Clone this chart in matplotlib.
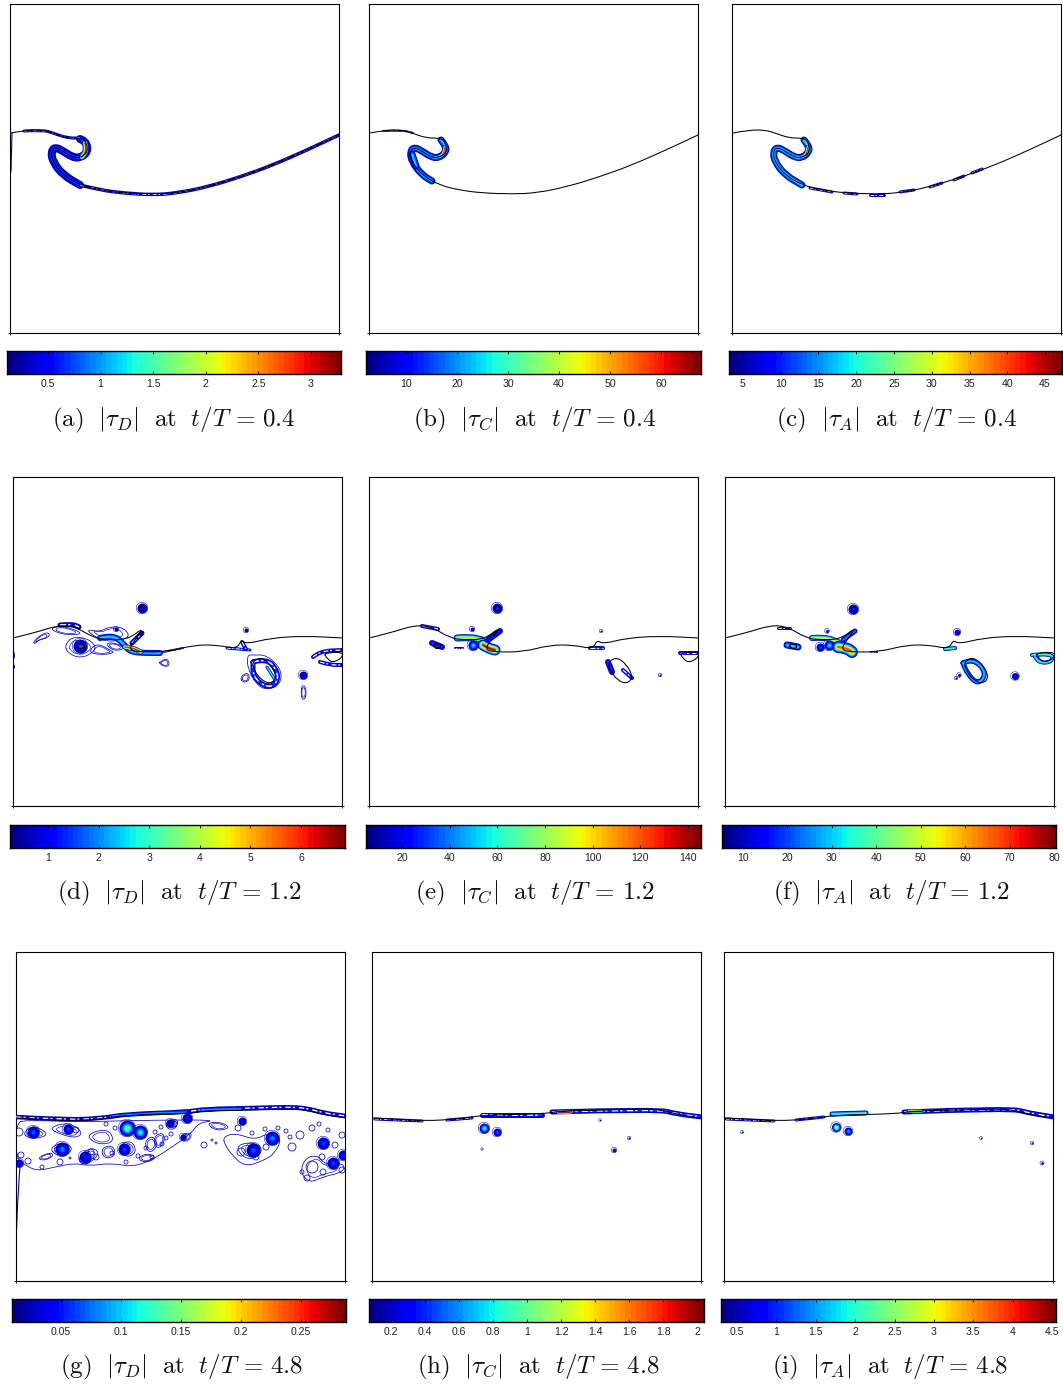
import numpy as np
import matplotlib
matplotlib.use('Agg')
import matplotlib.pyplot as plt
from matplotlib.colors import Normalize
from matplotlib.patches import PathPatch
from matplotlib.path import Path

plt.rcParams['mathtext.fontset'] = 'cm'
plt.rcParams['font.family'] = ['Liberation Sans', 'DejaVu Sans']

W, H = 1063, 1384
SIDE = 329  # panel coordinates are pixels from panel corner

# interface, one per row (same curve in all three panels of a row)
SURFACE_04 = [(1, 129), (17, 126), (33, 126), (43, 129), (57, 134), (70, 134), (76, 137), (78, 148), (70, 154),
              (62, 153), (53, 147), (45, 143), (41, 148), (43, 158), (53, 171), (70, 181), (90, 186), (113, 189),
              (143, 190), (167, 189), (197, 183), (230, 173), (263, 161), (297, 146), (329, 131)]
SURFACE_12 = [(0, 161), (21, 156), (46, 148), (63, 150), (81, 161), (96, 163), (116, 162), (131, 150), (122, 163),
              (116, 172), (124, 175), (154, 175), (181, 168), (204, 168), (224, 172), (228, 163), (234, 167),
              (258, 161), (291, 159), (330, 161)]
SURFACE_48 = [(0, 166), (22, 167), (51, 169), (88, 167), (111, 163), (171, 162), (188, 159), (239, 158), (271, 157),
              (290, 158), (308, 163), (330, 166)]
BUBBLES_12 = [[(239, 185), (248, 180), (258, 188), (264, 200), (258, 207), (248, 203), (241, 193)],
              [(311, 176), (330, 175), (329, 181), (319, 186), (313, 180)],
              [(126, 130), (130, 129), (131, 133), (127, 134)],
              [(64, 167), (71, 167), (72, 171), (66, 172)]]

# colorbars: lower and upper limit, tick values
LIM_A, TICKS_A = (0.11, 3.286), [0.5, 1, 1.5, 2, 2.5, 3]
LIM_B, TICKS_B = (2.16, 67.84), [10, 20, 30, 40, 50, 60]
LIM_C, TICKS_C = (3.15, 47.25), [5, 10, 15, 20, 25, 30, 35, 40, 45]
LIM_D, TICKS_D = (0.25, 6.87), [1, 2, 3, 4, 5, 6]
LIM_E, TICKS_E = (4.9, 145.5), [20, 40, 60, 80, 100, 120, 140]
LIM_F, TICKS_F = (5.27, 80.45), [10, 20, 30, 40, 50, 60, 70, 80]
LIM_G, TICKS_G = (0.0092, 0.2875), [0.05, 0.1, 0.15, 0.2, 0.25]
LIM_H, TICKS_H = (0.0706, 2.04), [0.2, 0.4, 0.6, 0.8, 1, 1.2, 1.4, 1.6, 1.8, 2]
LIM_I, TICKS_I = (0.297, 4.55), [0.5, 1, 1.5, 2, 2.5, 3, 3.5, 4, 4.5]

# ribbons: points, width in px, peak value. blobs: x, y, radius, peak value
RIBBONS_A = [([(70, 135), (76, 137), (78, 148), (70, 154), (62, 153), (53, 147), (45, 143), (41, 148), (43, 158), (53, 171), (70, 181)], 8, 0.75),
             ([(75, 139), (77, 146), (72, 153)], 6, 3.1),
             ([(14, 127), (33, 126), (43, 129), (57, 134), (70, 134)], 3, 0.3),
             ([(70, 181), (90, 186), (113, 189), (143, 191), (167, 189), (197, 183), (230, 173), (263, 161), (297, 146), (329, 131)], 3.5, 0.3)]
RIBBONS_B = [([(72, 136), (77, 142), (77, 148), (70, 154), (62, 153), (53, 147), (45, 143), (41, 148), (43, 158), (53, 171), (63, 177)], 7, 24),
             ([(76, 143), (75, 150), (70, 153)], 4, 62),
             ([(14, 127), (33, 126), (44, 129)], 2, 6),
             ([(43, 150), (47, 162)], 7, 25)]
RIBBONS_C = [([(72, 136), (77, 142), (77, 148), (70, 154), (62, 153), (53, 147), (45, 143), (41, 148), (43, 158), (53, 171), (70, 181)], 7, 20),
             ([(76, 143), (75, 150), (70, 153)], 4, 44),
             ([(78, 184), (100, 188)], 3, 6), ([(112, 189), (125, 190)], 3, 6), ([(138, 191), (152, 191)], 3, 6),
             ([(168, 188), (182, 186)], 3, 6), ([(198, 183), (210, 179)], 3, 6), ([(222, 176), (232, 172)], 3, 6),
             ([(240, 169), (250, 165)], 3, 6)]
RIBBONS_D = [([(47, 148), (60, 147), (66, 150)], 5, 0.9),
             ([(87, 161), (100, 158), (110, 166), (117, 175), (134, 176), (147, 176)], 6, 2.6),
             ([(112, 170), (120, 171), (128, 175)], 5, 6.4),
             ([(119, 166), (129, 156)], 5, 0.8),
             ([(150, 175), (170, 171)], 2, 0.7),
             ([(214, 171), (237, 173)], 3, 1.7), ([(229, 165), (233, 172)], 4, 1.0),
             ([(240, 185), (254, 181), (265, 195), (264, 206), (254, 211), (240, 200), (240, 185)], 5, 1.5),
             ([(254, 190), (262, 203)], 3, 3.0),
             ([(300, 180), (307, 174), (330, 173)], 4, 1.0), ([(307, 185), (317, 188), (330, 188)], 4, 1.0)]
RIBBONS_E = [([(53, 149), (69, 152)], 4, 25), ([(63, 166), (73, 170)], 6, 30),
             ([(88, 161), (101, 160), (113, 163)], 7, 100), ([(114, 168), (119, 171), (126, 173)], 11, 140),
             ([(119, 163), (131, 154)], 6, 25), ([(221, 171), (234, 171)], 4, 35),
             ([(239, 185), (243, 195)], 6, 30), ([(254, 193), (263, 201)], 4, 30),
             ([(311, 176), (329, 176)], 4, 30), ([(86, 171), (94, 171)], 2, 12)]
RIBBONS_F = [([(53, 151), (65, 151)], 3, 15), ([(62, 168), (73, 170)], 7, 30),
             ([(87, 161), (100, 160), (113, 165)], 6, 55), ([(113, 170), (122, 171), (127, 175)], 12, 68),
             ([(118, 163), (130, 154)], 5, 25), ([(220, 172), (230, 171)], 4, 40), ([(146, 175), (152, 175)], 2, 10),
             ([(238, 186), (248, 181), (262, 196), (253, 208), (242, 196), (238, 186)], 5, 30),
             ([(307, 178), (328, 176), (327, 185), (315, 186), (310, 180)], 4, 40)]
RIBBONS_G = [([(0, 165), (51, 168), (88, 166), (111, 162), (171, 160), (188, 157), (239, 156), (271, 155), (290, 156), (308, 161), (330, 164)], 4.5, 0.035),
             ([(96, 164), (130, 161), (170, 160)], 3, 0.09), ([(185, 158), (200, 157), (225, 157)], 3, 0.1)]
RIBBONS_H = [([(3, 167), (50, 169)], 3, 0.25), ([(75, 168), (100, 166)], 3, 0.3), ([(110, 163), (170, 163)], 5, 0.45),
             ([(180, 160), (285, 157), (305, 162), (330, 165)], 5, 0.45), ([(186, 160), (198, 160)], 4, 2.0)]
RIBBONS_I = [([(2, 167), (50, 169)], 3, 0.7), ([(72, 168), (100, 165)], 3, 0.8), ([(108, 162), (142, 161)], 5, 2.2),
             ([(180, 160), (285, 156), (305, 161), (330, 165)], 5, 1.0), ([(185, 159), (197, 159)], 4, 4.4)]

BLOBS_A, BLOBS_B, BLOBS_C = [], [], []
BLOBS_D = [(129, 131, 5, 0.9), (67, 169, 7, 1.6), (290, 198, 4, 0.8), (103, 152, 2, 0.5), (233, 153, 2, 0.5)]
BLOBS_E = [(128, 131, 5, 30), (103, 152, 2, 18), (104, 168, 5, 55), (291, 198, 1, 20), (232, 154, 1, 6)]
BLOBS_F = [(128, 132, 5, 18), (102, 154, 1.5, 12), (104, 168, 5, 33), (95, 170, 4, 20), (232, 155, 3, 14),
           (290, 199, 3.5, 18), (234, 198, 1.5, 8), (231, 201, 1, 8)]
BLOBS_G = [(111, 176, 8, 0.155), (124, 180, 7, 0.12), (17, 180, 6, 0.07), (52, 177, 5, 0.06), (46, 197, 7, 0.08),
           (69, 205, 6, 0.05), (108, 197, 6, 0.06), (3, 211, 4, 0.04), (171, 166, 5, 0.05), (226, 169, 4, 0.04),
           (256, 186, 7, 0.08), (237, 198, 7, 0.07), (307, 191, 6, 0.06), (317, 211, 6, 0.06), (327, 203, 5, 0.05),
           (154, 171, 4, 0.03), (167, 185, 3, 0.03)]
BLOBS_H = [(112, 176, 5, 0.9), (125, 180, 4, 0.5), (242, 198, 2, 0.4), (257, 186, 1, 0.4), (228, 168, 0.6, 0.3), (110, 197, 0.4, 0.2)]
BLOBS_I = [(112, 175, 4.5, 3.0), (124, 179, 4, 1.5), (18, 180, 0.8, 0.9), (257, 186, 0.7, 0.8), (308, 191, 1, 0.9), (318, 211, 1.2, 1.0)]

# thin outer contour lines
LOOPS_D = [[(20, 165), (30, 156), (37, 156), (35, 161), (25, 163), (22, 167)],
           [(52, 168), (59, 160), (74, 161), (84, 170), (77, 178), (65, 181), (54, 175)],
           [(84, 166), (97, 173), (102, 176), (87, 178), (75, 175)],
           [(147, 185), (154, 181), (157, 188), (152, 190), (146, 186)],
           [(227, 200), (235, 195), (237, 203), (230, 206)],
           [(289, 208), (293, 210), (293, 221), (289, 223), (288, 215)],
           [(234, 178), (240, 178), (254, 178), (269, 193), (267, 208), (254, 213), (244, 208), (235, 193)],
           [(72, 152), (87, 155), (95, 150), (110, 150), (118, 160), (100, 165), (85, 162)],
           [(38, 151), (48, 149), (60, 152), (70, 157), (55, 158), (42, 155)],
           [(92, 166), (104, 166), (112, 172), (100, 174)],
           [(0, 173), (2, 178), (0, 184)], [(0, 186), (2, 190), (0, 193)]]
LOOPS_G = [[(7, 181), (17, 173), (32, 181), (26, 186), (12, 186)],
           [(32, 176), (52, 170), (67, 180), (61, 186), (46, 183)],
           [(34, 196), (46, 190), (57, 195), (52, 203), (39, 203)],
           [(22, 205), (36, 200), (37, 205), (26, 209)],
           [(62, 206), (74, 195), (84, 200), (76, 210), (66, 213)],
           [(69, 183), (92, 176), (99, 190), (82, 193)],
           [(102, 193), (116, 188), (121, 201), (109, 206)],
           [(121, 206), (132, 201), (141, 206), (129, 211)],
           [(137, 185), (147, 180), (149, 190), (141, 198)],
           [(149, 170), (162, 166), (161, 176), (152, 178)],
           [(164, 183), (176, 180), (174, 188), (166, 190)],
           [(207, 185), (219, 181), (239, 188), (252, 181), (266, 186), (259, 201), (249, 208), (229, 215), (216, 203), (209, 193)],
           [(219, 195), (232, 190), (246, 194), (244, 204), (230, 208)],
           [(289, 206), (302, 203), (309, 213), (328, 211), (328, 220), (306, 225), (294, 231), (284, 221)],
           [(128, 190), (137, 183), (142, 194), (133, 202)],
           [(85, 196), (97, 193), (100, 204), (88, 207)],
           [(190, 171), (205, 170), (215, 176), (200, 179)],
           [(0, 171), (0, 206), (9, 213), (21, 219), (39, 215), (59, 211), (72, 214), (96, 211), (116, 215), (136, 208),
            (156, 195), (176, 181), (182, 171), (202, 168), (140, 168), (60, 170), (10, 168)]]
RINGS_G = [(188, 193, 3), (196, 188, 1), (200, 191, 1), (222, 176, 3), (236, 181, 2), (249, 177, 2), (274, 185, 2), (284, 183, 4),
           (276, 195, 4), (319, 193, 3), (326, 183, 3), (291, 226, 3), (286, 220, 2), (306, 205, 3), (296, 215, 6), (307, 220, 3),
           (326, 218, 3), (12, 209, 3), (26, 215, 2), (44, 210, 3), (54, 206, 1), (96, 201, 2), (122, 204, 2), (136, 205, 2),
           (139, 180, 2), (99, 176, 2), (110, 210, 2), (130, 196, 2), (146, 192, 2), (155, 182, 2), (5, 203, 3), (75, 200, 3),
           (80, 205, 3), (70, 210, 2), (225, 200, 4), (240, 205, 3), (250, 195, 3), (60, 178, 3), (158, 172, 3), (145, 175, 2),
           (90, 172, 2), (150, 186, 2), (262, 176, 2), (270, 179, 2), (296, 176, 3), (303, 172, 2), (312, 178, 2), (3, 180, 4)]
EDGE_G = [(4, 214), (2, 240), (0, 293)]
EDGE_A = [(2, 129), (1, 168)]

# layout in image pixels
PANELS = [
    ('a', r'\tau_D', '0.4', (10, 4), (7, 351, 341, 374), 174, 420, SURFACE_04, LIM_A, TICKS_A, RIBBONS_A, BLOBS_A, [], [], EDGE_A),
    ('b', r'\tau_C', '0.4', (369, 4), (366, 351, 701, 374), 535, 420, SURFACE_04, LIM_B, TICKS_B, RIBBONS_B, BLOBS_B, [], [], None),
    ('c', r'\tau_A', '0.4', (732, 4), (729, 351, 1062, 374), 896, 420, SURFACE_04, LIM_C, TICKS_C, RIBBONS_C, BLOBS_C, [], [], None),
    ('d', r'\tau_D', '1.2', (13, 477), (10, 825, 345, 848), 179, 893, SURFACE_12, LIM_D, TICKS_D, RIBBONS_D, BLOBS_D, LOOPS_D, [], None),
    ('e', r'\tau_C', '1.2', (369, 477), (366, 825, 701, 848), 535, 893, SURFACE_12, LIM_E, TICKS_E, RIBBONS_E, BLOBS_E, [], [], None),
    ('f', r'\tau_A', '1.2', (725, 477), (722, 825, 1056, 848), 891, 893, SURFACE_12, LIM_F, TICKS_F, RIBBONS_F, BLOBS_F, [], [], None),
    ('g', r'\tau_D', '4.8', (16, 952), (12, 1299, 346, 1322), 182, 1367, SURFACE_48, LIM_G, TICKS_G, RIBBONS_G, BLOBS_G, LOOPS_G, RINGS_G, EDGE_G),
    ('h', r'\tau_C', '4.8', (372, 952), (369, 1299, 704, 1322), 538, 1367, SURFACE_48, LIM_H, TICKS_H, RIBBONS_H, BLOBS_H, [], [], None),
    ('i', r'\tau_A', '4.8', (724, 952), (721, 1299, 1056, 1322), 890, 1367, SURFACE_48, LIM_I, TICKS_I, RIBBONS_I, BLOBS_I, [], [], None),
]

PX = 0.72  # points per pixel at dpi 100
BLUE = (0, 0, 0.8)
cmap = plt.get_cmap('jet', 64)


def pixel_axes(fig, left, top, right, bottom):
    return fig.add_axes([left / W, 1 - bottom / H, (right - left) / W, (bottom - top) / H])


def smooth_path(pts, closed=False):
    # quadratic curve with the read points as control points
    pts = np.array(pts, dtype=float)
    mids = (pts[:-1] + pts[1:]) / 2
    if closed:
        last = (pts[-1] + pts[0]) / 2
        verts, codes = [last], [Path.MOVETO]
        for p, m in zip(pts, list(mids) + [last]):
            verts += [p, m]
            codes += [Path.CURVE3, Path.CURVE3]
        return Path(verts, codes)
    verts, codes = [pts[0]], [Path.MOVETO]
    for p, m in zip(pts[1:-1], mids[1:]):
        verts += [p, m]
        codes += [Path.CURVE3, Path.CURVE3]
    verts.append(pts[-1])
    codes.append(Path.LINETO)
    return Path(verts, codes)


def stroke(ax, path, color, lw, zorder, **kw):
    ax.add_patch(PathPatch(path, fill=False, edgecolor=color, lw=lw, capstyle='round', joinstyle='round',
                           zorder=zorder, **kw))


def level_list(value, norm):
    low = norm.vmin + 0.05 * (norm.vmax - norm.vmin)
    return np.linspace(low, value, max(2, int(7 * norm(value)) + 2))


def draw_ribbon(ax, pts, width, value, norm):
    path = smooth_path(pts)
    levels = level_list(value, norm)
    for i, level in enumerate(levels):
        lw = width * (1 - i / len(levels)) * PX
        stroke(ax, path, cmap(norm(level)), lw, 3)
    # low ribbons are only a few contour lines, with white showing between
    if norm(value) < 0.25 and width <= 5:
        ax.add_patch(PathPatch(path, fill=False, edgecolor='white', lw=width * 0.3 * PX, capstyle='butt',
                               linestyle=(0, (4, 1.5, 1.5, 3)), zorder=3))


def draw_blob(ax, x, y, r, value, norm):
    levels = level_list(value, norm)
    for i, level in enumerate(levels):
        d = 2 * r * (1 - i / len(levels)) * PX
        ax.scatter([x], [y], s=d ** 2, color=[cmap(norm(level))], linewidths=0, zorder=4)
    ax.scatter([x], [y], s=(2 * (r + 0.8) * PX) ** 2, facecolors='none', edgecolors=[BLUE], linewidths=0.35, zorder=2)


def draw_panel(fig, label, name, time, corner, bar, cap_x, cap_y, surface, lim, ticks, ribbons, blobs, loops, rings, edge):
    left, top = corner
    ax = pixel_axes(fig, left, top, left + SIDE, top + SIDE)
    norm = Normalize(*lim)

    for loop in loops:
        stroke(ax, smooth_path(loop, closed=True), BLUE, 0.55, 2)
        if len(loop) < 10:
            centre = np.mean(loop, axis=0)
            inner = centre + (np.array(loop) - centre) * 0.72
            stroke(ax, smooth_path(inner, closed=True), BLUE, 0.45, 2)
    for x, y, r in rings:
        ax.scatter([x], [y], s=(2 * r * PX) ** 2, facecolors='none', edgecolors=[BLUE], linewidths=0.55, zorder=2)
    if edge:
        stroke(ax, smooth_path(edge), BLUE, 0.8, 2)
    for pts, width, value in ribbons:
        draw_ribbon(ax, pts, width, value, norm)
    for x, y, r, value in blobs:
        draw_blob(ax, x, y, r, value, norm)

    stroke(ax, smooth_path(surface), 'k', 0.75, 5)
    if surface is SURFACE_12:
        for bubble in BUBBLES_12:
            stroke(ax, smooth_path(bubble, closed=True), 'k', 0.75, 5)

    ax.set_xlim(0, SIDE)
    ax.set_ylim(SIDE, 0)
    ax.set_xticks([0, SIDE])
    ax.set_yticks([SIDE])
    ax.tick_params(direction='inout', length=3, width=0.6, labelbottom=False, labelleft=False, right=True)
    for spine in ax.spines.values():
        spine.set_linewidth(0.8)

    cax = pixel_axes(fig, *bar)
    cax.imshow(np.linspace(lim[0], lim[1], 64)[None, :], cmap=cmap, norm=norm, aspect='auto',
               extent=(lim[0], lim[1], 0, 1), interpolation='nearest')
    cax.set_yticks([])
    cax.set_xticks(ticks)
    cax.set_xticklabels([str(t) for t in ticks], fontsize=7.6, color='#222222')
    cax.tick_params(axis='x', direction='in', length=2.2, width=0.6, top=True, pad=3.5)
    for spine in cax.spines.values():
        spine.set_linewidth(1.0)

    caption = r'$\mathrm{(%s)}\ \ |%s|\ \ \mathrm{at}\ \ t/T\,=\,%s$' % (label, name, time)
    fig.text(cap_x / W, 1 - cap_y / H, caption, fontsize=18, ha='center', va='center', color='#111111')


fig = plt.figure(figsize=(W / 100, H / 100), dpi=100)
for panel in PANELS:
    draw_panel(fig, *panel)
fig.savefig('out.png', dpi=100)
